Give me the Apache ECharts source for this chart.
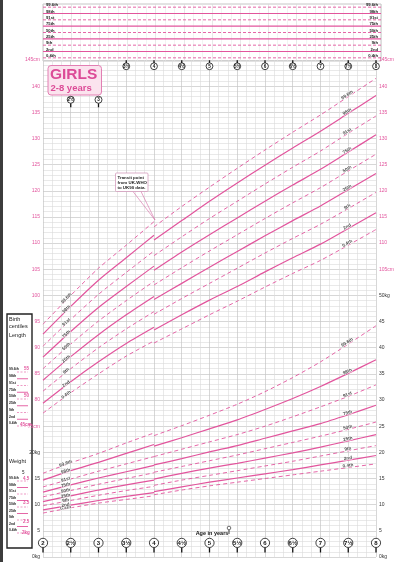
<!DOCTYPE html>
<html>
<head>
<meta charset="utf-8">
<script src="https://cdn.jsdelivr.net/npm/echarts@6/dist/echarts.min.js"></script>
<style>
html, body { margin: 0; padding: 0; background: #fff; }
#main { width: 397px; height: 562px; }
</style>
</head>
<body>
<div id="main"></div>
<script>
var centileNames = ['0.4th', '2nd', '9th', '25th', '50th', '75th', '91st', '98th', '99.6th'];
var centileDashed = [true, false, true, false, true, false, true, false, true];

var agesWho = [2, 2.5, 3, 3.5, 4];
var agesUk90 = [4, 4.5, 5, 5.5, 6, 6.5, 7, 7.5, 8];

// height (cm), UK-WHO part 2-4 years
var htWho0_4 = [77.5, 81.4, 85.0, 88.4, 91.3];
var htWho2 = [79.4, 83.5, 87.3, 90.8, 93.9];
var htWho9 = [81.7, 86.0, 90.0, 93.6, 96.9];
var htWho25 = [83.8, 88.3, 92.5, 96.3, 99.8];
var htWho50 = [86.0, 90.7, 95.1, 99.0, 102.7];
var htWho75 = [88.2, 93.1, 97.7, 101.7, 105.6];
var htWho91 = [90.3, 95.4, 100.2, 104.4, 108.5];
var htWho98 = [92.6, 97.9, 102.9, 107.2, 111.5];
var htWho99_6 = [94.5, 100.0, 105.2, 109.6, 114.1];

// height (cm), UK90 part 4-8 years
var htUk0_4 = [90.9, 93.6, 96.3, 98.9, 101.6, 104.2, 106.7, 109.6, 112.6];
var htUk2 = [93.4, 96.3, 99.1, 101.7, 104.5, 107.2, 109.8, 112.8, 115.8];
var htUk9 = [96.4, 99.4, 102.3, 105.2, 108.1, 110.9, 113.6, 116.6, 119.7];
var htUk25 = [99.2, 102.3, 105.4, 108.4, 111.4, 114.3, 117.1, 120.2, 123.3];
var htUk50 = [102.0, 105.3, 108.5, 111.6, 114.7, 117.7, 120.6, 123.8, 127.0];
var htUk75 = [104.8, 108.3, 111.6, 114.8, 118.0, 121.1, 124.1, 127.4, 130.7];
var htUk91 = [107.6, 111.2, 114.7, 118.0, 121.3, 124.5, 127.6, 131.0, 134.3];
var htUk98 = [110.6, 114.3, 118.0, 121.5, 124.9, 128.2, 131.4, 134.8, 138.2];
var htUk99_6 = [113.1, 117.0, 120.7, 124.3, 127.8, 131.2, 134.5, 138.0, 141.5];

// weight (kg), UK-WHO part
var wtWho0_4 = [8.4, 9.4, 10.3, 11.0, 11.7];
var wtWho2 = [9.0, 9.9, 10.8, 11.6, 12.3];
var wtWho9 = [9.8, 10.8, 11.8, 12.7, 13.5];
var wtWho25 = [10.6, 11.7, 12.8, 13.8, 14.7];
var wtWho50 = [11.5, 12.7, 13.9, 15.0, 16.1];
var wtWho75 = [12.4, 13.8, 15.1, 16.3, 17.5];
var wtWho91 = [13.4, 14.9, 16.4, 17.8, 19.2];
var wtWho98 = [14.7, 16.5, 18.1, 19.8, 21.5];
var wtWho99_6 = [16.0, 18.0, 19.8, 21.8, 23.7];

// weight (kg), UK90 part
var wtUk0_4 = [11.9, 12.8, 13.6, 14.3, 15.0, 15.7, 16.4, 17.1, 17.8];
var wtUk2 = [12.5, 13.4, 14.3, 15.1, 15.9, 16.7, 17.6, 18.5, 19.4];
var wtUk9 = [13.7, 14.7, 15.6, 16.5, 17.4, 18.3, 19.3, 20.3, 21.3];
var wtUk25 = [14.9, 16.0, 17.0, 17.9, 18.9, 19.9, 21.0, 22.2, 23.4];
var wtUk50 = [16.2, 17.3, 18.4, 19.5, 20.7, 21.9, 23.1, 24.4, 25.8];
var wtUk75 = [17.6, 18.8, 20.1, 21.3, 22.7, 24.1, 25.5, 27.2, 29.0];
var wtUk91 = [19.2, 20.6, 22.0, 23.4, 25.0, 26.8, 28.7, 30.7, 32.9];
var wtUk98 = [21.2, 22.8, 24.5, 26.2, 28.2, 30.3, 32.6, 35.1, 37.7];
var wtUk99_6 = [23.2, 25.1, 27.1, 29.2, 31.6, 34.3, 37.3, 40.7, 44.2];

// age markers
var bottomMarkAges = [2, 2.5, 3, 3.5, 4, 4.5, 5, 5.5, 6, 6.5, 7, 7.5, 8];
var topMarkAges = [3.5, 4, 4.5, 5, 5.5, 6, 6.5, 7, 7.5, 8];
var boxMarkAges = [2.5, 3];

var htWhoSets = [htWho0_4, htWho2, htWho9, htWho25, htWho50, htWho75, htWho91, htWho98, htWho99_6];
var htUkSets = [htUk0_4, htUk2, htUk9, htUk25, htUk50, htUk75, htUk91, htUk98, htUk99_6];
var wtWhoSets = [wtWho0_4, wtWho2, wtWho9, wtWho25, wtWho50, wtWho75, wtWho91, wtWho98, wtWho99_6];
var wtUkSets = [wtUk0_4, wtUk2, wtUk9, wtUk25, wtUk50, wtUk75, wtUk91, wtUk98, wtUk99_6];

var pink = '#e2559d';
var font = '"Liberation Sans", Arial, sans-serif';
var pxPerUnit = 497 / 95;
var pxPerYear = 337 / 6;

var myChart = echarts.init(document.getElementById('main'));

function curve(ages, vals, yIdx, dashed) {
    return {
        type: 'line', xAxisIndex: 0, yAxisIndex: yIdx,
        data: ages.map(function (a, k) { return [a, vals[k]]; }),
        showSymbol: false, symbol: 'none', smooth: 0.25, silent: true, animation: false,
        lineStyle: { color: pink, width: dashed ? 0.9 : 1.2, type: dashed ? [4, 3] : 'solid' }
    };
}

function labelSeries(ages, sets, idx, yIdx, offset) {
    var data = sets.map(function (vals, i) {
        var dy = (vals[idx + 1] - vals[idx - 1]) * pxPerUnit;
        var dx = (ages[idx + 1] - ages[idx - 1]) * pxPerYear;
        return {
            value: [ages[idx], vals[idx]],
            label: { formatter: centileNames[i], rotate: Math.atan2(dy, dx) * 180 / Math.PI }
        };
    });
    return {
        type: 'scatter', xAxisIndex: 0, yAxisIndex: yIdx, symbolSize: 1,
        itemStyle: { color: 'rgba(0,0,0,0)' }, silent: true, animation: false, z: 5,
        label: {
            show: true, position: 'inside', offset: offset, fontSize: 4.6, fontWeight: 'bold',
            fontFamily: font, color: '#1a1a1a', textBorderColor: '#fff', textBorderWidth: 1.2
        },
        data: data
    };
}

function ageText(a) {
    return Math.floor(a) + (a % 1 ? '½' : '');
}

// circled age markers, stemDir -1 = stem goes up, 1 = down
function markerSeries(ages, yIdx, yVal, r, stemDir, stemLen, fontPx) {
    return {
        type: 'custom', xAxisIndex: 0, yAxisIndex: yIdx, silent: true, animation: false, z: 6, clip: false,
        data: ages.map(function (a) { return [a, yVal]; }),
        renderItem: function (params, api) {
            var p = api.coord([api.value(0), api.value(1)]);
            return {
                type: 'group',
                children: [
                    { type: 'line', shape: { x1: p[0], y1: p[1] + stemDir * r, x2: p[0], y2: p[1] + stemDir * (r + stemLen) },
                      style: { stroke: '#111', lineWidth: 1.3 } },
                    { type: 'circle', shape: { cx: p[0], cy: p[1], r: r },
                      style: { fill: '#fff', stroke: '#111', lineWidth: 0.8 } },
                    { type: 'text', x: p[0], y: p[1] + 0.3,
                      style: { text: ageText(api.value(0)), align: 'center', verticalAlign: 'middle', textAlign: 'center',
                               textVerticalAlign: 'middle', font: 'bold ' + fontPx + 'px ' + font, fill: '#111' } }
                ]
            };
        }
    };
}

var series = [];
for (var i = 0; i < centileNames.length; i++) {
    series.push(curve(agesWho, htWhoSets[i], 0, centileDashed[i]));
    series.push(curve(agesUk90, htUkSets[i], 0, centileDashed[i]));
    series.push(curve(agesWho, wtWhoSets[i], 1, centileDashed[i]));
    series.push(curve(agesUk90, wtUkSets[i], 1, centileDashed[i]));
}
series.push(labelSeries(agesWho, htWhoSets, 1, 0, [-5, -1]));
series.push(labelSeries(agesUk90, htUkSets, 7, 0, [0, -2]));
series.push(labelSeries(agesWho, wtWhoSets, 1, 1, [-5, -1]));
series.push(labelSeries(agesUk90, wtUkSets, 7, 1, [0, -2]));

// top panel (adult height) lines
var topNames = centileNames.slice().reverse();
topNames.forEach(function (name, k) {
    series.push({
        type: 'line', xAxisIndex: 1, yAxisIndex: 4, data: [[2, name], [8, name]],
        showSymbol: false, symbol: 'none', silent: true, animation: false,
        lineStyle: { color: pink, width: centileDashed[8 - k] ? 0.9 : 1.2, type: centileDashed[8 - k] ? [3, 2] : 'solid' }
    });
});

series.push(markerSeries(bottomMarkAges, 1, 2.7, 4.6, 1, 5, 6));
series.push(markerSeries(topMarkAges, 0, 143.8, 3.4, -1, 2.6, 4.6));
series.push(markerSeries(boxMarkAges, 0, 137.4, 3.5, 1, 4, 4.6));

function cmLabel(lo, unit) {
    return function (v) {
        if (v < lo) return '';
        return (v === 145 || v === lo) ? v + unit : v;
    };
}
function kgLabel(hi) {
    return function (v) {
        if (v > hi) return '';
        return (v === hi || v === 0) ? v + 'kg' : v;
    };
}

var gridLine = { lineStyle: { color: '#c6c6c6', width: 0.7 } };
var gridMinor = { show: true, lineStyle: { color: '#dadada', width: 0.6 } };

// birth centile box (left)
var birthEls = [];
birthEls.push({ type: 'rect', shape: { x: 7, y: 314, width: 25, height: 234 },
    style: { fill: '#fff', stroke: '#222', lineWidth: 1.4 } });
birthEls.push({ type: 'text', x: 9, y: 316, style: { text: 'Birth\ncentiles', font: '5.5px ' + font, fill: '#222', lineHeight: 7 } });
birthEls.push({ type: 'text', x: 9, y: 332, style: { text: 'Length', font: '5.5px ' + font, fill: '#222' } });
birthEls.push({ type: 'text', x: 9, y: 458, style: { text: 'Weight', font: '5.5px ' + font, fill: '#222' } });
birthEls.push({ type: 'text', x: 22, y: 470, style: { text: '5', font: '4.5px ' + font, fill: '#222' } });
topNames.forEach(function (name, k) {
    var dashed = centileDashed[8 - k];
    [371 + k * 6.75, 480 + k * 6.5].forEach(function (yy) {
        birthEls.push({ type: 'text', x: 9, y: yy - 3, style: { text: name, font: 'bold 3.4px ' + font, fill: '#222' } });
        birthEls.push({ type: 'line', shape: { x1: 17, y1: yy + 1, x2: 28, y2: yy + 1 },
            style: { stroke: pink, lineWidth: dashed ? 0.6 : 0.9, lineDash: dashed ? [2, 1.5] : null } });
    });
});
[['55', 24, 366], ['50', 24, 393], ['45cm', 20, 422], ['4.5', 23, 476], ['3.5', 23, 500], ['2.5', 23, 519], ['2kg', 22, 530]]
    .forEach(function (t) {
        birthEls.push({ type: 'text', x: t[1], y: t[2], style: { text: t[0], font: 'bold 4.5px ' + font, fill: pink } });
    });

option = {
    animation: false,
    textStyle: { fontFamily: font },
    grid: [
        { left: 43, right: 17, top: 60, bottom: 5 },
        { left: 43, right: 16, top: 4, height: 57, show: true, borderColor: '#b8b8b8', borderWidth: 0.8 }
    ],
    xAxis: [
        { gridIndex: 0, type: 'value', min: 2, max: 8, interval: 0.5,
          axisLine: { show: false }, axisTick: { show: false }, axisLabel: { show: false },
          splitLine: gridLine, minorTick: { show: false, splitNumber: 3 }, minorSplitLine: gridMinor },
        { gridIndex: 1, type: 'value', min: 2, max: 8, interval: 0.5,
          axisLine: { show: false }, axisTick: { show: false }, axisLabel: { show: false },
          splitLine: { lineStyle: { color: '#d8d8d8', width: 0.6 } }, minorTick: { show: false, splitNumber: 3 },
          minorSplitLine: { show: true, lineStyle: { color: '#e6e6e6', width: 0.5 } } }
    ],
    yAxis: [
        { gridIndex: 0, type: 'value', min: 50, max: 145, interval: 5, position: 'left',
          axisLine: { show: false }, axisTick: { show: false },
          axisLabel: { fontSize: 5, color: pink, margin: 3, formatter: cmLabel(75, 'cm') },
          splitLine: gridLine, minorTick: { show: false, splitNumber: 5 }, minorSplitLine: gridMinor },
        { gridIndex: 0, type: 'value', min: 0, max: 95, interval: 5, position: 'left',
          axisLine: { show: false }, axisTick: { show: false }, splitLine: { show: false },
          axisLabel: { fontSize: 5, color: '#333', margin: 3, formatter: kgLabel(20) } },
        { gridIndex: 0, type: 'value', min: 50, max: 145, interval: 5, position: 'right',
          axisLine: { show: false }, axisTick: { show: false }, splitLine: { show: false },
          axisLabel: { fontSize: 5, color: pink, margin: 3, formatter: cmLabel(105, 'cm') } },
        { gridIndex: 0, type: 'value', min: 0, max: 95, interval: 5, position: 'right',
          axisLine: { show: false }, axisTick: { show: false }, splitLine: { show: false },
          axisLabel: { fontSize: 5, color: '#333', margin: 3, formatter: kgLabel(50) } },
        { gridIndex: 1, type: 'category', data: topNames, inverse: true, position: 'left',
          axisLine: { show: false }, axisTick: { show: false }, splitLine: { show: false },
          axisLabel: { inside: true, interval: 0, margin: 3, fontSize: 4.2, fontWeight: 'bold', color: '#222', verticalAlign: 'bottom' } },
        { gridIndex: 1, type: 'category', data: topNames, inverse: true, position: 'right',
          axisLine: { show: false }, axisTick: { show: false }, splitLine: { show: false },
          axisLabel: { inside: true, interval: 0, margin: 3, fontSize: 4.2, fontWeight: 'bold', color: '#222', verticalAlign: 'bottom' } }
    ],
    graphic: [
        { type: 'rect', shape: { x: 0, y: 0, width: 3, height: 562 }, style: { fill: '#3c3c3c' } },
        // GIRLS box
        { type: 'rect', shape: { x: 48, y: 65.5, width: 53.5, height: 29.5, r: 3 },
          style: { fill: '#fbe3ee', stroke: '#e27fb3', lineWidth: 1 }, z: 10 },
        { type: 'text', x: 50, y: 67, z: 11, style: { text: 'GIRLS', font: 'bold 15.5px ' + font, fill: '#dc4b97' } },
        { type: 'text', x: 50.5, y: 83, z: 11, style: { text: '2-8 years', font: 'bold 9.5px ' + font, fill: '#dc4b97' } },
        // transit note
        { type: 'polyline', shape: { points: [[133, 191.5], [155, 220], [141, 191.5]] },
          style: { stroke: '#d46aa5', lineWidth: 0.6, fill: null }, z: 10 },
        { type: 'rect', shape: { x: 115.5, y: 173, width: 32.5, height: 18.5, r: 1 },
          style: { fill: '#fff', stroke: '#cf8fb4', lineWidth: 0.7 }, z: 10 },
        { type: 'text', x: 117.5, y: 175, z: 11,
          style: { text: 'Transit point\nfrom UK-WHO\nto UK90 data.', font: 'bold 4.4px ' + font, fill: '#222', lineHeight: 5.3 } },
        // age caption
        { type: 'text', x: 212, y: 533, z: 11,
          style: { text: 'Age in years', font: 'bold 5.5px ' + font, fill: '#111', align: 'center', verticalAlign: 'middle',
                   textAlign: 'center', textVerticalAlign: 'middle' } },
        { type: 'line', shape: { x1: 229, y1: 530, x2: 229, y2: 534 }, style: { stroke: '#111', lineWidth: 0.8 }, z: 11 },
        { type: 'circle', shape: { cx: 229, cy: 528, r: 1.8 }, style: { fill: '#fff', stroke: '#111', lineWidth: 0.6 }, z: 11 }
    ].concat(birthEls),
    series: series
};

myChart.setOption(option);
</script>
</body>
</html>
